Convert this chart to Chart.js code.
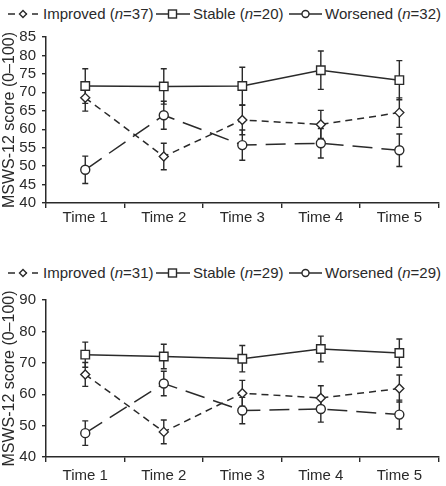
<!DOCTYPE html>
<html>
<head>
<meta charset="utf-8">
<script src="https://cdn.jsdelivr.net/npm/chart.js@4.4.0/dist/chart.umd.min.js"></script>
<style>
  body { margin: 0; background: #fff; }
  #wrap { position: relative; width: 446px; height: 486px; font-family: "Liberation Sans", Arial, sans-serif; color: #2a2a2a; }
  canvas { position: absolute; left: 0; }
  .legend { position: absolute; left: 0; width: 446px; height: 18px; font-size: 15px; white-space: nowrap; }
  .legend svg, .legend span { position: absolute; top: 0; display: block; line-height: 18px; }
  .legend svg { top: 2px; }
</style>
</head>
<body>
<div id="wrap">
  <div class="legend" id="leg1" style="top:5px"></div>
  <canvas id="chart1" width="446" height="240" style="top:0"></canvas>
  <div class="legend" id="leg2" style="top:264px"></div>
  <canvas id="chart2" width="446" height="246" style="top:240px"></canvas>
</div>
<script>
// Categorias e valores
const tempos = ['Time 1', 'Time 2', 'Time 3', 'Time 4', 'Time 5'];

// Grafico de cima
const melhorou1 = [68.5, 52.6, 62.5, 61.3, 64.5];
const melhorou1Erro = [3.6, 3.6, 4.0, 3.8, 4.0];
const estavel1 = [71.7, 71.6, 71.7, 76.0, 73.3];
const estavel1Erro = [4.7, 4.8, 5.1, 5.2, 5.3];
const piorou1 = [49.0, 63.8, 55.7, 56.2, 54.3];
const piorou1Erro = [3.7, 3.8, 4.1, 4.0, 4.4];
const nGrupos1 = [37, 20, 32];

// Grafico de baixo
const melhorou2 = [66.3, 48.0, 60.3, 58.8, 61.8];
const melhorou2Erro = [3.8, 3.8, 4.1, 3.9, 4.3];
const estavel2 = [72.6, 72.0, 71.3, 74.4, 73.1];
const estavel2Erro = [4.0, 3.9, 4.2, 4.1, 4.5];
const piorou2 = [47.6, 63.4, 54.8, 55.3, 53.5];
const piorou2Erro = [3.9, 3.9, 4.2, 4.2, 4.6];
const nGrupos2 = [31, 29, 29];

const nomes = ['Improved', 'Stable', 'Worsened'];
const cor = '#2a2a2a';

// barras de erro desenhadas antes dos pontos
const barrasErro = {
    id: 'barrasErro',
    beforeDatasetsDraw(chart) {
        const ctx = chart.ctx;
        const y = chart.scales.y;
        chart.data.datasets.forEach((ds, i) => {
            chart.getDatasetMeta(i).data.forEach((pt, j) => {
                const v = ds.data[j], e = ds.erros[j];
                const topo = y.getPixelForValue(v + e);
                const base = y.getPixelForValue(v - e);
                ctx.save();
                ctx.strokeStyle = cor;
                ctx.lineWidth = 1.4;
                ctx.beginPath();
                ctx.moveTo(pt.x, topo); ctx.lineTo(pt.x, base);
                ctx.moveTo(pt.x - 3, topo); ctx.lineTo(pt.x + 3, topo);
                ctx.moveTo(pt.x - 3, base); ctx.lineTo(pt.x + 3, base);
                ctx.stroke();
                ctx.restore();
            });
        });
    }
};

// posicoes x de cada simbolo e texto da legenda
const legX = [[8, 43], [156, 193], [289, 325]];

function montaLegenda(id, ns) {
    const simbolos = [
        '<svg width="30" height="14"><line x1="0" y1="7" x2="30" y2="7" stroke="' + cor + '" stroke-width="1.6" stroke-dasharray="7,5"/><polygon points="15,3.5 18.5,7 15,10.5 11.5,7" fill="#fff" stroke="' + cor + '" stroke-width="1.4"/></svg>',
        '<svg width="34" height="14"><line x1="0" y1="7" x2="34" y2="7" stroke="' + cor + '" stroke-width="1.6"/><rect x="12.5" y="3" width="8" height="8" fill="#fff" stroke="' + cor + '" stroke-width="1.4"/></svg>',
        '<svg width="33" height="14"><line x1="0" y1="7" x2="33" y2="7" stroke="' + cor + '" stroke-width="1.6"/><circle cx="16.5" cy="7" r="3.5" fill="#fff" stroke="' + cor + '" stroke-width="1.4"/></svg>'
    ];
    document.getElementById(id).innerHTML = nomes.map((nome, i) =>
        simbolos[i].replace('<svg ', '<svg style="left:' + legX[i][0] + 'px" ') +
        '<span style="left:' + legX[i][1] + 'px">' + nome + ' (<i>n</i>=' + ns[i] + ')</span>'
    ).join('');
}

function criaGrafico(canvasId, series, erros, yMin, yMax, passo, padTopo, alturaX, padX) {
    const estilos = [
        { pointStyle: 'rectRot', pointRadius: 4.5, borderDash: [7, 5] },
        { pointStyle: 'rect', pointRadius: 6, borderDash: [] },
        { pointStyle: 'circle', pointRadius: 4.5, borderDash: [20, 9] }
    ];
    return new Chart(document.getElementById(canvasId), {
        type: 'line',
        data: {
            labels: tempos,
            datasets: series.map((dados, i) => ({
                label: nomes[i],
                data: dados,
                erros: erros[i],
                borderColor: cor,
                borderWidth: 1.5,
                borderDash: estilos[i].borderDash,
                pointStyle: estilos[i].pointStyle,
                pointRadius: estilos[i].pointRadius,
                pointBackgroundColor: '#fff',
                pointBorderColor: cor,
                pointBorderWidth: 1.4,
                tension: 0
            }))
        },
        options: {
            responsive: false,
            animation: false,
            layout: { padding: { top: padTopo, right: 5, left: 0, bottom: 0 } },
            plugins: { legend: { display: false }, tooltip: { enabled: false } },
            scales: {
                x: {
                    offset: true,
                    grid: { offset: true, drawOnChartArea: false, tickLength: 5, color: cor, lineWidth: 1.4 },
                    border: { color: cor, width: 1.5 },
                    ticks: { color: cor, font: { family: 'Liberation Sans', size: 15 }, padding: padX, maxRotation: 0 },
                    afterFit: scale => { scale.height = alturaX; }
                },
                y: {
                    min: yMin,
                    max: yMax,
                    grid: { drawOnChartArea: false, tickLength: 4, color: cor, lineWidth: 1.4 },
                    border: { color: cor, width: 1.5 },
                    ticks: { stepSize: passo, autoSkip: false, color: cor, font: { family: 'Liberation Sans', size: 15 }, padding: 6 },
                    title: {
                        display: true,
                        text: 'MSWS-12 score (0\u2013100)',
                        color: cor,
                        font: { family: 'Liberation Sans', size: 16 },
                        padding: { top: 0, bottom: 0 }
                    },
                    afterFit: scale => { scale.width = 46; }
                }
            }
        },
        plugins: [barrasErro]
    });
}

montaLegenda('leg1', nGrupos1);
montaLegenda('leg2', nGrupos2);

criaGrafico('chart1',
    [melhorou1, estavel1, piorou1],
    [melhorou1Erro, estavel1Erro, piorou1Erro],
    40, 85, 5, 37, 37, 1);

criaGrafico('chart2',
    [melhorou2, estavel2, piorou2],
    [melhorou2Erro, estavel2Erro, piorou2Erro],
    40, 90, 10, 60, 29, 5);
</script>
</body>
</html>
